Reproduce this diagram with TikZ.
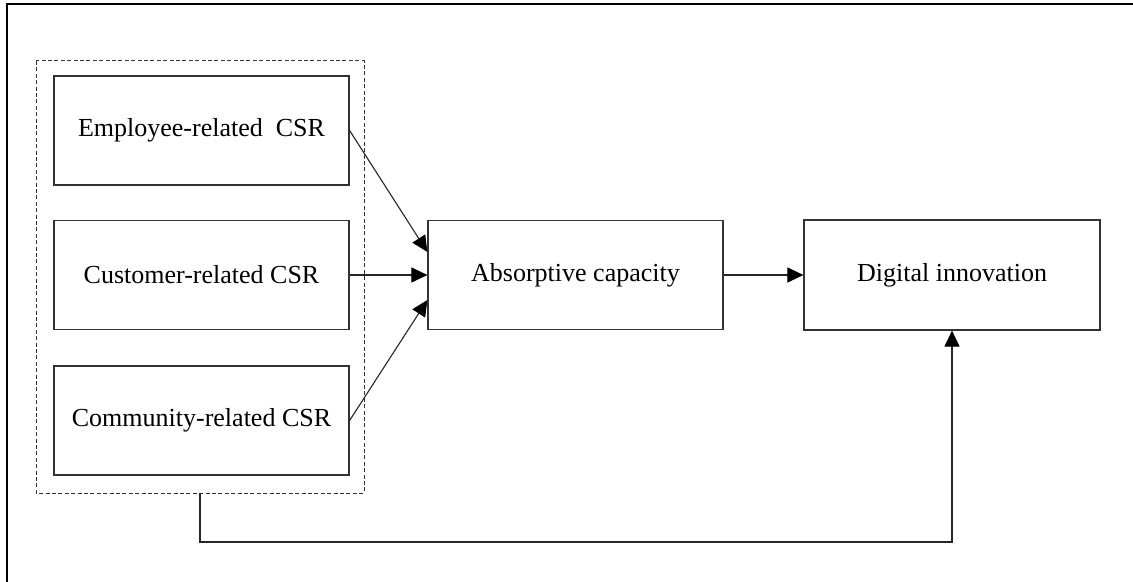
\documentclass[tikz,border=0pt]{standalone}
\usepackage{fontspec}
\setmainfont{Liberation Serif}
\usetikzlibrary{arrows.meta}
\begin{document}
\begin{tikzpicture}[x=0.5pt,y=-0.5pt,
  box/.style={draw=black!80,line width=0.6pt,rectangle,minimum width=147.5pt,minimum height=54.5pt,inner sep=0pt,font=\fontsize{13}{15}\selectfont},
  link/.style={draw=black!85,line width=0.55pt,-{Triangle[length=8pt,width=7.5pt,fill=black,color=black]}},
  group/.style={draw=black!80,dash pattern=on 2pt off 1.2pt,line width=0.5pt}]
  \useasboundingbox (0,0) rectangle (1133,582);
  % frame edges
  \draw[line width=0.8pt] (7,582) -- (7,4) -- (1133,4);
  % CSR dimensions
  \node[box] (emp) at (201.5,130.5) {Employee-related\ \ CSR};
  \node[box] (cus) at (201.5,275) {Customer-related CSR};
  \node[box] (com) at (201.5,420.5) {Community-related CSR};
  % grouping frame
  \draw[group] (36,61) rectangle (364,493);
  \coordinate (grp) at (200,493);
  % mediator and outcome
  \node[box] (abs) at (575.5,275) {Absorptive capacity};
  \node[box,minimum width=148pt,minimum height=55pt] (dig) at (952,275) {Digital innovation};
  % paths
  \draw[link] (emp.east) -- ([yshift=11.5pt]abs.west);
  \draw[link] (cus.east) -- (abs.west);
  \draw[link] (com.east) -- ([yshift=-12.5pt]abs.west);
  \draw[link] (abs.east) -- (dig.west);
  \draw[link] (grp) -- (200,542) -| (dig.south);
\end{tikzpicture}
\end{document}
